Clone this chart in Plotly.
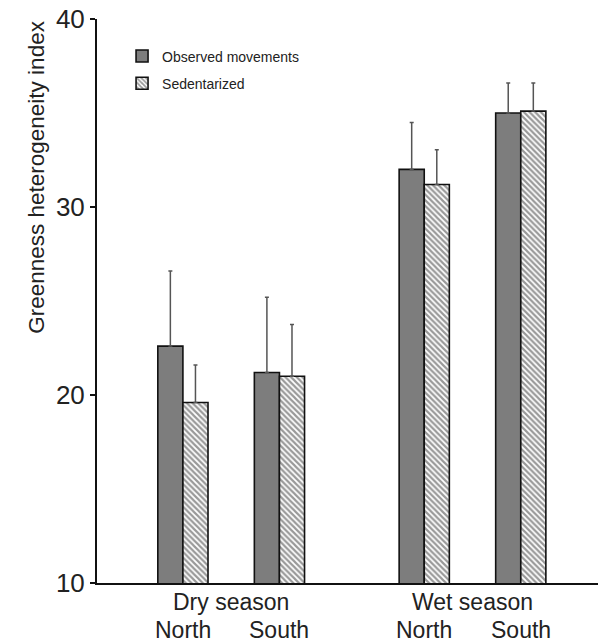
import plotly.graph_objects as go

seasons = ["Dry season", "Dry season", "Wet season", "Wet season"]
regions = ["North", "South", "North", "South"]
observed = [22.6, 21.2, 32.0, 35.0]
observed_err = [4.0, 4.0, 2.5, 1.6]
sedentarized = [19.6, 21.0, 31.2, 35.1]
sedentarized_err = [2.0, 2.75, 1.85, 1.5]
yticks = [10, 20, 30, 40]
ytitle = "Greenness heterogeneity index"

# positions: regions one unit apart, seasons separated by an extra half unit
season_order = ["Dry season", "Wet season"]
xpos = []
for i, (s, r) in enumerate(zip(seasons, regions)):
    xpos.append(i + 0.5 * season_order.index(s))

FONT = "Liberation Sans, Arial, sans-serif"
fig = go.Figure()
fig.add_trace(go.Bar(
    x=xpos, y=observed, name="Observed movements", legendgroup="a",
    marker=dict(color="#7d7d7d", line=dict(color="#111", width=1.6)),
    error_y=dict(type="data", symmetric=False, array=observed_err,
                 arrayminus=[0] * len(observed), color="#555", thickness=1.5, width=2),
))
fig.add_trace(go.Bar(
    x=xpos, y=sedentarized, name="Sedentarized", legendgroup="b",
    marker=dict(color="white", line=dict(color="#111", width=1.6),
                pattern=dict(shape="\\", fgcolor="#333", bgcolor="white", size=4, solidity=0.55)),
    error_y=dict(type="data", symmetric=False, array=sedentarized_err,
                 arrayminus=[0] * len(sedentarized), color="#555", thickness=1.5, width=2),
))

ann = []
for x, r in zip(xpos, regions):
    ann.append(dict(x=x, y=-0.084, xref="x", yref="paper", text=r, showarrow=False,
                    font=dict(size=23, color="#222", family=FONT), yanchor="middle"))
for s in season_order:
    xs = [x for x, ss in zip(xpos, seasons) if ss == s]
    ann.append(dict(x=sum(xs) / len(xs), y=-0.033, xref="x", yref="paper", text=s,
                    showarrow=False, font=dict(size=23, color="#222", family=FONT),
                    yanchor="middle"))
ann.append(dict(x=-0.12, y=0.72, xref="paper", yref="paper", text=ytitle, textangle=-90,
                showarrow=False, font=dict(size=22.5, color="#222", family=FONT),
                xanchor="center", yanchor="middle"))

fig.update_layout(
    width=598, height=642,
    margin=dict(l=97, r=0, t=19, b=59),
    paper_bgcolor="white", plot_bgcolor="white",
    barmode="group", bargap=0.48, bargroupgap=0,
    font=dict(family=FONT, color="#222"),
    showlegend=True,
    legend=dict(x=0.05, y=0.962, xanchor="left", yanchor="top",
                font=dict(size=14, color="#222", family=FONT),
                bgcolor="rgba(0,0,0,0)", tracegroupgap=6),
    annotations=ann,
    xaxis=dict(range=[-0.89, 4.3], showticklabels=False, ticks="", showgrid=False,
               zeroline=False, showline=True, linecolor="#111", linewidth=2),
    yaxis=dict(range=[10, 40], tickvals=yticks, ticks="outside", ticklen=5,
               tickwidth=1.5, tickcolor="#111", showgrid=False, zeroline=False,
               showline=True, linecolor="#111", linewidth=2,
               tickfont=dict(size=26, color="#222", family=FONT),
               ticklabelstandoff=0),
)
fig.write_html("out.html")
